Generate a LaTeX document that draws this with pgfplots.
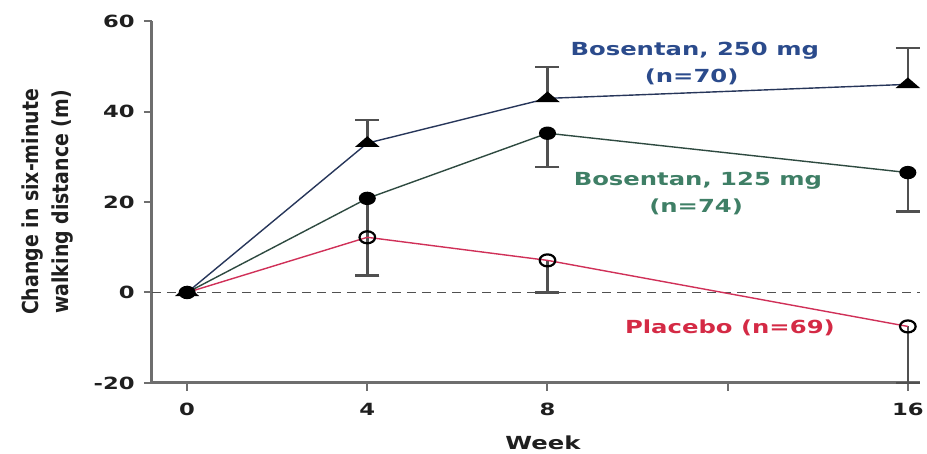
\documentclass[border=0pt]{standalone}
\usepackage{fontspec}
\usepackage{pgfplots}
\pgfplotsset{compat=1.18}

\newfontfamily\labfont{DejaVu Sans Bold}[FakeStretch=1.35]
\newfontfamily\ylfont{DejaVu Sans Bold}[FakeStretch=0.86]

\definecolor{c250}{HTML}{2B4B8C}
\definecolor{l250}{HTML}{27365A}
\definecolor{c125}{HTML}{3F7F66}
\definecolor{l125}{HTML}{2E4A40}
\definecolor{cpla}{HTML}{D42A45}
\definecolor{lpla}{HTML}{D03058}
\definecolor{axgray}{HTML}{6E6E6E}
\definecolor{errgray}{HTML}{505050}

% week, mean change (m), one-sided error
\pgfplotstableread{
w  y     e
0  0     0
4  33.0  5.1
8  42.9  6.9
16 46.0  8.0
}\bosHigh
\pgfplotstableread{
w  y     e
0  0     0
4  20.8  17.0
8  35.2  7.5
16 26.5  8.6
}\bosLow
\pgfplotstableread{
w  y     e
0  0     0
4  12.2  8.4
8  7.1   7.1
16 -7.5  12.5
}\placebo

\begin{document}
\begin{tikzpicture}
\begin{axis}[
  scale only axis, width=384pt, height=181pt,
  xmin=-0.78, xmax=16.27, ymin=-20, ymax=60,
  axis x line*=bottom, axis y line*=left,
  axis line style={axgray, line width=1.5pt},
  xtick={0,4,8,12,16}, xticklabels={0,4,8,,16},
  ytick={-20,0,20,40,60}, yticklabels={-20,0,20,40,60},
  extra y ticks={0}, extra y tick labels={},
  extra y tick style={grid=major, major grid style={errgray, line width=0.7pt, dash pattern=on 4.5pt off 3pt}, major tick length=0pt},
  tick align=outside, major tick length=4pt,
  tick style={axgray, line width=1pt},
  ticklabel style={font=\labfont\fontsize{8.4}{10}\selectfont, text=black!88},
  xticklabel style={anchor=base, inner sep=0pt, yshift=-12.5pt},
  yticklabel style={anchor=east, inner sep=0pt, xshift=-4.5pt},
  xlabel={Week},
  xlabel style={at={(axis description cs:0.509,0)}, anchor=base, yshift=-33.5pt, inner sep=0pt, font=\labfont\fontsize{9}{10}\selectfont, text=black!88},
  ylabel={Change in six-minute\\walking distance (m)},
  ylabel style={at={(axis description cs:0,0.5)}, anchor=center, yshift=52pt, align=center, font=\ylfont\fontsize{11}{15}\selectfont, text=black!88},
  clip=false,
  every axis plot/.append style={line width=0.7pt},
  error bars/error bar style={errgray, line width=1.2pt, solid},
  error bars/error mark options={errgray, line width=1.2pt, mark size=6pt, rotate=90},
]
% error bars (weeks 4, 8 and 16 only)
\addplot[draw=none, forget plot, skip coords between index={0}{1},
  error bars/.cd, y dir=minus, y explicit]
  table[x=w, y=y, y error=e] {\placebo};
\addplot[draw=none, forget plot, skip coords between index={0}{1},
  error bars/.cd, y dir=plus, y explicit]
  table[x=w, y=y, y error=e] {\bosHigh};
\addplot[draw=none, forget plot, skip coords between index={0}{1},
  error bars/.cd, y dir=minus, y explicit]
  table[x=w, y=y, y error=e] {\bosLow};

% placebo line
\addplot[lpla, no marks] table[x=w, y=y] {\placebo};
% bosentan 250 mg
\addplot[l250, mark=triangle*, mark size=3pt,
  mark options={draw=black, fill=black, xscale=2.0}]
  table[x=w, y=y] {\bosHigh};
% bosentan 125 mg
\addplot[l125, mark=*, mark size=3pt,
  mark options={draw=black, fill=black, xscale=1.3}]
  table[x=w, y=y] {\bosLow};
% placebo marks on top
\addplot[draw=none, mark=o, mark indices={2,3,4}, mark size=3pt,
  mark options={draw=black, fill=white, line width=1.1pt, xscale=1.3}]
  table[x=w, y=y] {\placebo};

\node[anchor=base, font=\labfont\fontsize{9}{10}\selectfont, text=c250] at (axis cs:11.27,52.4) {Bosentan, 250 mg};
\node[anchor=base, font=\labfont\fontsize{9}{10}\selectfont, text=c250] at (axis cs:11.2,46.5) {(n=70)};
\node[anchor=base, font=\labfont\fontsize{9}{10}\selectfont, text=c125] at (axis cs:11.34,23.7) {Bosentan, 125 mg};
\node[anchor=base, font=\labfont\fontsize{9}{10}\selectfont, text=c125] at (axis cs:11.3,17.7) {(n=74)};
\node[anchor=base, font=\labfont\fontsize{9}{10}\selectfont, text=cpla] at (axis cs:12.05,-9.1) {Placebo (n=69)};

\coordinate (BL) at (rel axis cs:0,0);
\coordinate (TR) at (rel axis cs:1,1);
\end{axis}
\pgfresetboundingbox
\path ([shift={(-76pt,-35.5pt)}]BL) rectangle ([shift={(3.5pt,10.5pt)}]TR);
\end{tikzpicture}
\end{document}
